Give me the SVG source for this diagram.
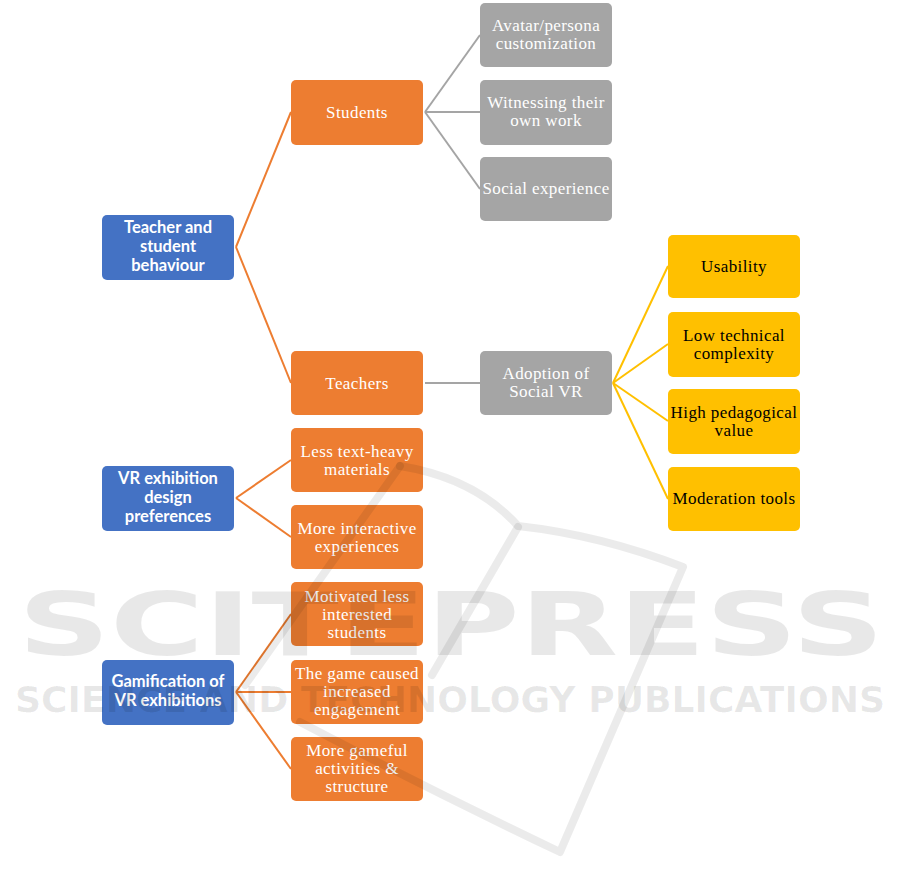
<svg xmlns="http://www.w3.org/2000/svg" width="901" height="887" viewBox="0 0 901 887">
<style>
.blue{fill:#4472c4}
.org{fill:#ed7d31}
.gry{fill:#a5a5a5}
.yel{fill:#ffc000}
.bt{font-family:Lato,"Liberation Sans",sans-serif;font-weight:bold;font-size:16.5px;fill:#fff;text-anchor:middle}
.st{font-family:"Liberation Serif","Times New Roman",serif;font-size:17px;letter-spacing:0.4px;fill:#fff;text-anchor:middle}
.yt{font-family:"Liberation Serif","Times New Roman",serif;font-size:17px;letter-spacing:0.4px;fill:#000;text-anchor:middle}
.co{stroke:#ed7d31;stroke-width:2;fill:none}
.cg{stroke:#a5a5a5;stroke-width:2;fill:none}
.cy{stroke:#ffc000;stroke-width:2;fill:none}
.wm{font-family:"DejaVu Sans",sans-serif;font-weight:bold;fill:#000;fill-opacity:0.09}
.wl{stroke:#000;stroke-opacity:0.08;stroke-width:8;fill:none;stroke-linecap:round;stroke-linejoin:round}
</style>
<rect width="901" height="887" fill="#fff"/>
<g id="connectors">
<line class="co" x1="236" y1="247" x2="291" y2="112"/>
<line class="co" x1="236" y1="247" x2="291" y2="383"/>
<line class="cg" x1="425" y1="112" x2="480" y2="35"/>
<line class="cg" x1="425" y1="112" x2="480" y2="112"/>
<line class="cg" x1="425" y1="112" x2="480" y2="189"/>
<line class="cg" x1="425" y1="383" x2="480" y2="383"/>
<line class="cy" x1="613" y1="383" x2="668" y2="266"/>
<line class="cy" x1="613" y1="383" x2="668" y2="344"/>
<line class="cy" x1="613" y1="383" x2="668" y2="421"/>
<line class="cy" x1="613" y1="383" x2="668" y2="499"/>
<line class="co" x1="236" y1="498" x2="291" y2="460"/>
<line class="co" x1="236" y1="498" x2="291" y2="537"/>
<line class="co" x1="236" y1="692" x2="291" y2="614"/>
<line class="co" x1="236" y1="692" x2="291" y2="692"/>
<line class="co" x1="236" y1="692" x2="291" y2="769"/>
</g>
<g id="n-teacher-student"><rect class="blue" x="102" y="215" width="132" height="65" rx="5"/><text class="bt"><tspan x="168" y="233">Teacher and</tspan><tspan x="168" y="252">student</tspan><tspan x="168" y="271">behaviour</tspan></text></g>
<g id="n-students"><rect class="org" x="291" y="80" width="132" height="65" rx="5"/><text class="st" x="357" y="118">Students</text></g>
<g id="n-avatar"><rect class="gry" x="480" y="3" width="132" height="64" rx="5"/><text class="st"><tspan x="546" y="31">Avatar/persona</tspan><tspan x="546" y="49">customization</tspan></text></g>
<g id="n-witnessing"><rect class="gry" x="480" y="80" width="132" height="65" rx="5"/><text class="st"><tspan x="546" y="108">Witnessing their</tspan><tspan x="546" y="126">own work</tspan></text></g>
<g id="n-social"><rect class="gry" x="480" y="157" width="132" height="64" rx="5"/><text class="st" x="546" y="194">Social experience</text></g>
<g id="n-teachers"><rect class="org" x="291" y="351" width="132" height="64" rx="5"/><text class="st" x="357" y="389">Teachers</text></g>
<g id="n-adoption"><rect class="gry" x="480" y="351" width="132" height="64" rx="5"/><text class="st"><tspan x="546" y="379">Adoption of</tspan><tspan x="546" y="397">Social VR</tspan></text></g>
<g id="n-usability"><rect class="yel" x="668" y="235" width="132" height="63" rx="5"/><text class="yt" x="734" y="272">Usability</text></g>
<g id="n-lowtech"><rect class="yel" x="668" y="312" width="132" height="65" rx="5"/><text class="yt"><tspan x="734" y="341">Low technical</tspan><tspan x="734" y="359">complexity</tspan></text></g>
<g id="n-highped"><rect class="yel" x="668" y="389" width="132" height="65" rx="5"/><text class="yt"><tspan x="734" y="418">High pedagogical</tspan><tspan x="734" y="436">value</tspan></text></g>
<g id="n-moderation"><rect class="yel" x="668" y="467" width="132" height="64" rx="5"/><text class="yt" x="734" y="504">Moderation tools</text></g>
<g id="n-vr-design"><rect class="blue" x="102" y="466" width="132" height="65" rx="5"/><text class="bt"><tspan x="168" y="484">VR exhibition</tspan><tspan x="168" y="503">design</tspan><tspan x="168" y="522">preferences</tspan></text></g>
<g id="n-lesstext"><rect class="org" x="291" y="428" width="132" height="64" rx="5"/><text class="st"><tspan x="357" y="457">Less text-heavy</tspan><tspan x="357" y="475">materials</tspan></text></g>
<g id="n-moreinter"><rect class="org" x="291" y="505" width="132" height="64" rx="5"/><text class="st"><tspan x="357" y="534">More interactive</tspan><tspan x="357" y="552">experiences</tspan></text></g>
<g id="n-gamification"><rect class="blue" x="102" y="660" width="132" height="65" rx="5"/><text class="bt"><tspan x="168" y="687">Gamification of</tspan><tspan x="168" y="706">VR exhibitions</tspan></text></g>
<g id="n-motivated"><rect class="org" x="291" y="582" width="132" height="64" rx="5"/><text class="st"><tspan x="357" y="602">Motivated less</tspan><tspan x="357" y="620">interested</tspan><tspan x="357" y="638">students</tspan></text></g>
<g id="n-gamecaused"><rect class="org" x="291" y="660" width="132" height="64" rx="5"/><text class="st"><tspan x="357" y="679">The game caused</tspan><tspan x="357" y="697">increased</tspan><tspan x="357" y="715">engagement</tspan></text></g>
<g id="n-gameful"><rect class="org" x="291" y="737" width="132" height="64" rx="5"/><text class="st"><tspan x="357" y="756">More gameful</tspan><tspan x="357" y="774">activities &amp;</tspan><tspan x="357" y="792">structure</tspan></text></g>
<g id="watermark">
<path class="wl" d="M400,466 Q475,478 518,526 Q600,535 683,567 L560,852 Q430,790 300,722"/>
<path class="wl" d="M518,527 L432,675"/>
<path class="wl" d="M400,466 L245,685"/>
<text class="wm" x="18" y="655" font-size="88" textLength="866" lengthAdjust="spacingAndGlyphs">SCITEPRESS</text>
<text class="wm" x="15" y="712" font-size="36" textLength="870" lengthAdjust="spacingAndGlyphs">SCIENCE AND TECHNOLOGY PUBLICATIONS</text>
</g>
</svg>
